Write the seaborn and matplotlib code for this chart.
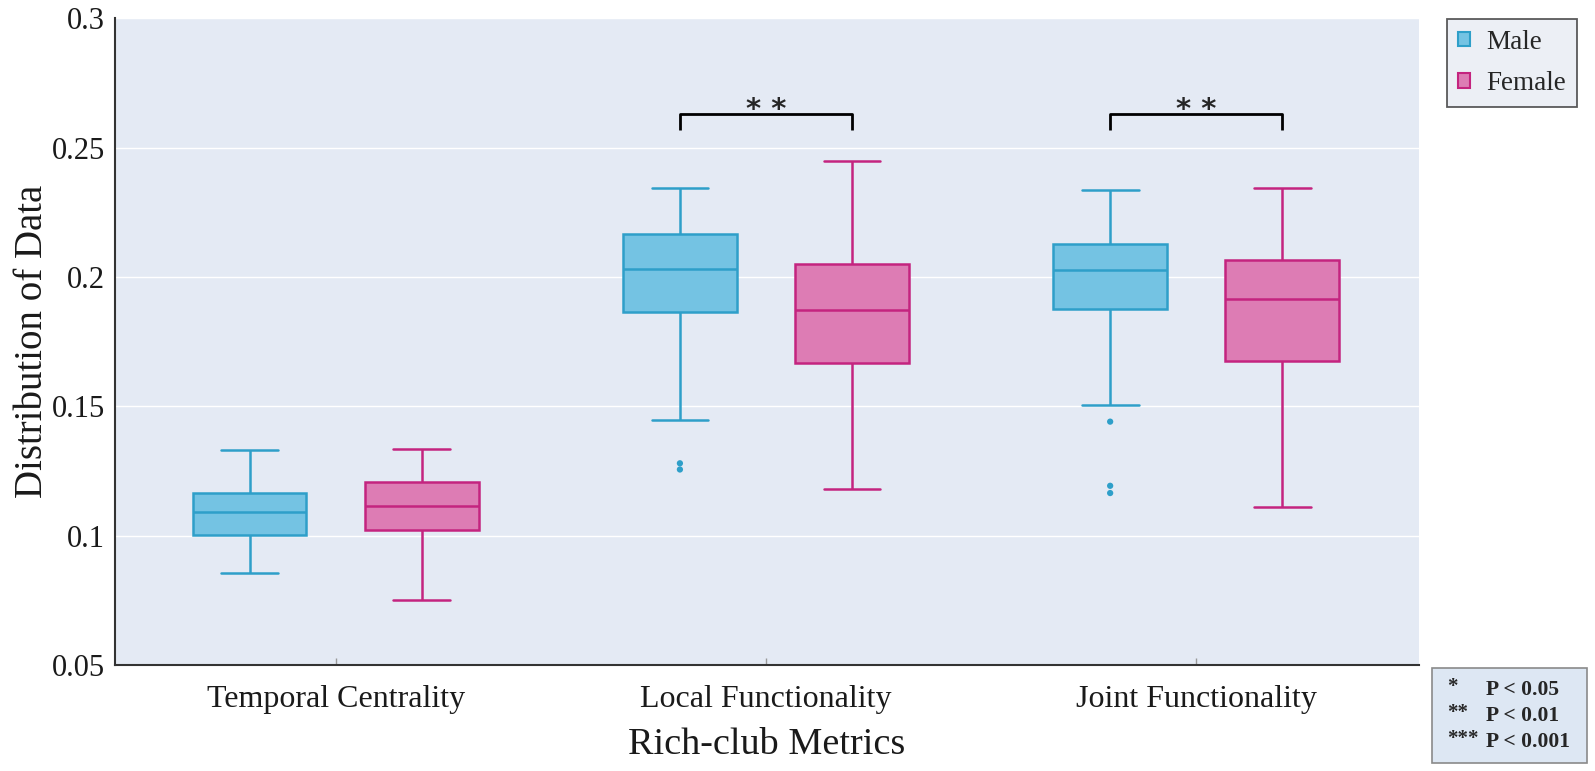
import numpy as np
import pandas as pd
import matplotlib
matplotlib.use("Agg")
import matplotlib.pyplot as plt
from matplotlib.patches import Rectangle, Patch
import seaborn as sns

# ---------------- data ----------------
categories = ["Temporal Centrality", "Local Functionality", "Joint Functionality"]
groups = ["Male", "Female"]

# five-number summaries: lower whisker, Q1, median, Q3, upper whisker
male_temporal = [0.0854, 0.1004, 0.1091, 0.1165, 0.1331]
male_local = [0.1449, 0.1866, 0.2031, 0.2165, 0.2343]
male_joint = [0.1504, 0.1878, 0.2028, 0.2126, 0.2335]
female_temporal = [0.0752, 0.1024, 0.1114, 0.1209, 0.1335]
female_local = [0.1181, 0.1669, 0.1874, 0.2051, 0.2449]
female_joint = [0.1110, 0.1677, 0.1917, 0.2067, 0.2346]

# outliers
male_local_out = [0.1256, 0.1280]
male_joint_out = [0.1165, 0.1193, 0.1441]

ytick_vals = [0.05, 0.1, 0.15, 0.2, 0.25, 0.3]
ytick_labels = ["0.05", "0.1", "0.15", "0.2", "0.25", "0.3"]

sig_categories = ["Local Functionality", "Joint Functionality"]
sig_labels = ["* *", "* *"]
sig_y = 0.263
sig_tick = 0.006

pvalue_stars = ["*", "**", "***"]
pvalue_texts = ["P < 0.05", "P < 0.01", "P < 0.001"]

# ---------------- frame ----------------
rows = []
for cat, vals in zip(categories, [male_temporal, male_local, male_joint]):
    rows += [("Male", cat, v) for v in vals]
for cat, vals in zip(categories, [female_temporal, female_local, female_joint]):
    rows += [("Female", cat, v) for v in vals]
df = pd.DataFrame(rows, columns=["sex", "metric", "value"])

out_rows = [("Male", "Local Functionality", v) for v in male_local_out]
out_rows += [("Male", "Joint Functionality", v) for v in male_joint_out]
df_out = pd.DataFrame(out_rows, columns=["sex", "metric", "value"])

# ---------------- style ----------------
bg = "#E4EAF4"
fill = {"Male": "#74C3E3", "Female": "#DD7CB4"}
edge = {"Male": "#2E9FC9", "Female": "#C4247F"}

sns.set_style("white", {"axes.facecolor": bg, "grid.color": "white"})
plt.rcParams["font.family"] = ["Liberation Serif", "DejaVu Serif"]

fig = plt.figure(figsize=(15.95, 7.71), dpi=100)
ax = fig.add_axes([0.0721, 0.1374, 0.8176, 0.8388])

for g in groups:
    sns.boxplot(
        data=df[df["sex"] == g], x="metric", y="value", hue="sex",
        order=categories, hue_order=groups, palette=fill, dodge=True,
        whis=(0, 100), width=0.8, gap=0.34, linewidth=1.8,
        linecolor=edge[g], saturation=1, showfliers=False, legend=False, ax=ax,
    )

sns.stripplot(
    data=df_out, x="metric", y="value", hue="sex", order=categories,
    hue_order=groups, palette=edge, dodge=True, jitter=False, size=4.5,
    legend=False, ax=ax,
)

ax.set_ylim(0.05, 0.3)
ax.set_xlim(-0.513, 2.518)
ax.set_yticks(ytick_vals)
ax.set_yticklabels(ytick_labels)
ax.yaxis.grid(True, color="white", linewidth=1.0)
ax.xaxis.grid(False)
ax.set_axisbelow(True)

for s in ["top", "right"]:
    ax.spines[s].set_visible(False)
for s in ["left", "bottom"]:
    ax.spines[s].set_color("#333333")
    ax.spines[s].set_linewidth(1.5)

ax.tick_params(axis="y", left=False, labelsize=22, labelcolor="#1a1a1a", pad=3.5)
ax.tick_params(axis="x", bottom=True, labelsize=23, labelcolor="#1a1a1a",
               direction="in", length=5, width=1.0, color="#9a9a9a", pad=14)

ax.set_xlabel("Rich-club Metrics", fontsize=27.5, labelpad=10, color="#1a1a1a")
ax.set_ylabel("Distribution of Data", fontsize=28, labelpad=1, color="#1a1a1a")

# significance brackets
for cat, lab in zip(sig_categories, sig_labels):
    i = categories.index(cat)
    x0, x1 = i - 0.2, i + 0.2
    ax.plot([x0, x0, x1, x1], [sig_y - sig_tick, sig_y, sig_y, sig_y - sig_tick],
            color="black", linewidth=2.0, solid_capstyle="butt")
    ax.text(i, sig_y - 0.0016, lab, ha="center", va="baseline", fontsize=21,
            fontweight="bold", family=["DejaVu Sans"])

# legend
handles = [Patch(facecolor=fill[g], edgecolor=edge[g], linewidth=1.5, label=g) for g in groups]
leg = fig.legend(handles=handles, loc="upper left", bbox_to_anchor=(0.9072, 0.9754),
                 borderaxespad=0, fontsize=19.5, frameon=True, fancybox=False,
                 handlelength=0.45, handleheight=0.45, handletextpad=0.6,
                 borderpad=0.4, labelspacing=0.6)
leg.get_frame().set_edgecolor("#333333")
leg.get_frame().set_linewidth(1.3)
leg.get_frame().set_facecolor("#E8ECF3")

# p-value key
fig.patches.append(Rectangle((0.8978, 0.0104), 0.0972, 0.1232, transform=fig.transFigure,
                             facecolor="#DDE7F3", edgecolor="#8A8A8A", linewidth=1.2))
for k, (st, tx) in enumerate(zip(pvalue_stars, pvalue_texts)):
    yy = 0.105 - k * 0.0335
    fig.text(0.9072, yy + 0.004, st, fontsize=15, fontweight="bold", va="center", ha="left")
    fig.text(0.9317, yy, tx, fontsize=15.5, fontweight="bold", va="center", ha="left")

fig.savefig("out.png", dpi=100)
